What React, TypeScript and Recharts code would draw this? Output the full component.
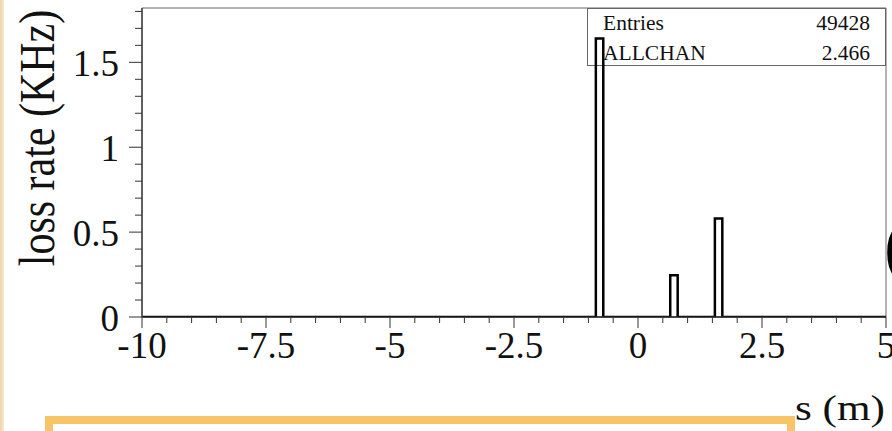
import { ComposedChart, Line, XAxis, YAxis, ReferenceArea } from "recharts";

const X_MIN = -10;
const X_MAX = 5;
const Y_MAX = 1.82;
const BIN_WIDTH = 0.15;

// non-empty histogram bins (lower edge, content)
const binStarts = [-0.85, 0.65, 1.55];
const binValues = [1.64, 0.246, 0.58];

const xMajorTicks = [-10, -7.5, -5, -2.5, 0, 2.5, 5];
const xTickLabels = ["-10", "-7.5", "-5", "-2.5", "0", "2.5", "5"];
const yMajorTicks = [0, 0.5, 1, 1.5];
const yTickLabels = ["0", "0.5", "1", "1.5"];

const statLabels = ["Entries", "ALLCHAN"];
const statValues = ["49428", "2.466"];

const xAllTicks = Array.from({ length: 31 }, (_, i) => Math.round((X_MIN + i * 0.5) * 10) / 10);
const yAllTicks = Array.from({ length: 19 }, (_, i) => i / 10);

// step outline of the histogram
const histData = [{ s: X_MIN, rate: 0 }];
binStarts.forEach((b, i) => {
  histData.push({ s: b, rate: binValues[i] });
  histData.push({ s: Math.round((b + BIN_WIDTH) * 100) / 100, rate: 0 });
});
histData.push({ s: X_MAX, rate: 0 });

const SERIF = "'Liberation Serif', 'DejaVu Serif', serif";

function XTick(props: any) {
  const { x, y, payload } = props;
  const idx = xMajorTicks.findIndex((t) => Math.abs(t - payload.value) < 1e-6);
  const major = idx >= 0;
  return (
    <g>
      <line x1={x} y1={y} x2={x} y2={y + (major ? 11 : 6)} stroke="#333" strokeWidth={1} />
      {major && (
        <text x={x} y={y + 41} textAnchor="middle" fontFamily={SERIF} fontSize={37} fill="#111">
          {xTickLabels[idx]}
        </text>
      )}
    </g>
  );
}

function YTick(props: any) {
  const { x, y, payload } = props;
  const idx = yMajorTicks.findIndex((t) => Math.abs(t - payload.value) < 1e-6);
  const major = idx >= 0;
  return (
    <g>
      <line x1={x} y1={y} x2={x - (major ? 13 : 7)} y2={y} stroke="#333" strokeWidth={1} />
      {major && (
        <text x={x - 23} y={y + 14} textAnchor="end" fontFamily={SERIF} fontSize={37} fill="#111">
          {yTickLabels[idx]}
        </text>
      )}
    </g>
  );
}

export default function App() {
  return (
    <div style={{ position: "fixed", left: 0, top: 0, width: 892, height: 431, background: "#fff", overflow: "hidden" }}>
      <svg width={892} height={431} style={{ position: "absolute", left: 0, top: 0 }}>
        <defs>
          <linearGradient id="beige" x1="0" y1="0" x2="1" y2="0">
            <stop offset="0%" stopColor="#EBD6A6" />
            <stop offset="100%" stopColor="#F6EBD2" />
          </linearGradient>
        </defs>
        <rect x={0} y={0} width={4} height={431} fill="url(#beige)" />
        {/* stats box */}
        <rect x={587.5} y={8.5} width={298} height={57} fill="#fff" stroke="#666" strokeWidth={1} />
        {statLabels.map((l, i) => (
          <text key={l} x={603} y={30 + i * 30} fontFamily={SERIF} fontSize={21.5} fill="#111">
            {l}
          </text>
        ))}
        {statValues.map((v, i) => (
          <text key={v} x={870} y={30 + i * 30} textAnchor="end" fontFamily={SERIF} fontSize={21.5} fill="#111">
            {v}
          </text>
        ))}
        {/* axis titles */}
        <text
          transform="translate(54,138) scale(1.2,1) rotate(-90)"
          textAnchor="middle"
          fontFamily={SERIF}
          fontSize={42}
          fill="#111"
        >
          loss rate (KHz)
        </text>
        <text x={885} y={420} textAnchor="end" fontFamily={SERIF} fontSize={35} textLength={90} lengthAdjust="spacingAndGlyphs" fill="#111">
          s (m)
        </text>
        <text x={884} y={270} fontFamily={SERIF} fontSize={72} fill="#000">
          (
        </text>
        {/* slide box */}
        <rect x={49} y={420} width={742} height={60} fill="none" stroke="#F8C468" strokeWidth={8} />
      </svg>
      <div style={{ position: "absolute", left: 0, top: 0 }}>
        <ComposedChart width={892} height={431} data={histData} margin={{ top: 8, right: 6, left: 0, bottom: 0 }}>
          <XAxis
            dataKey="s"
            type="number"
            domain={[X_MIN, X_MAX]}
            ticks={xAllTicks}
            interval={0}
            allowDataOverflow
            height={114}
            tickLine={false}
            tickSize={0}
            tickMargin={0}
            axisLine={{ stroke: "#222", strokeWidth: 1.5 }}
            tick={(p: any) => <XTick {...p} />}
          />
          <YAxis
            type="number"
            domain={[0, Y_MAX]}
            ticks={yAllTicks}
            interval={0}
            allowDataOverflow
            width={142}
            tickLine={false}
            tickSize={0}
            tickMargin={0}
            axisLine={{ stroke: "#444", strokeWidth: 1.5 }}
            tick={(p: any) => <YTick {...p} />}
          />
          <ReferenceArea x1={X_MIN} x2={X_MAX} y1={0} y2={Y_MAX} fill="none" stroke="#666" strokeWidth={1} fillOpacity={0} />
          <Line
            dataKey="rate"
            type="stepAfter"
            stroke="#000"
            strokeWidth={2.5}
            dot={false}
            activeDot={false}
            isAnimationActive={false}
          />
        </ComposedChart>
      </div>
    </div>
  );
}
